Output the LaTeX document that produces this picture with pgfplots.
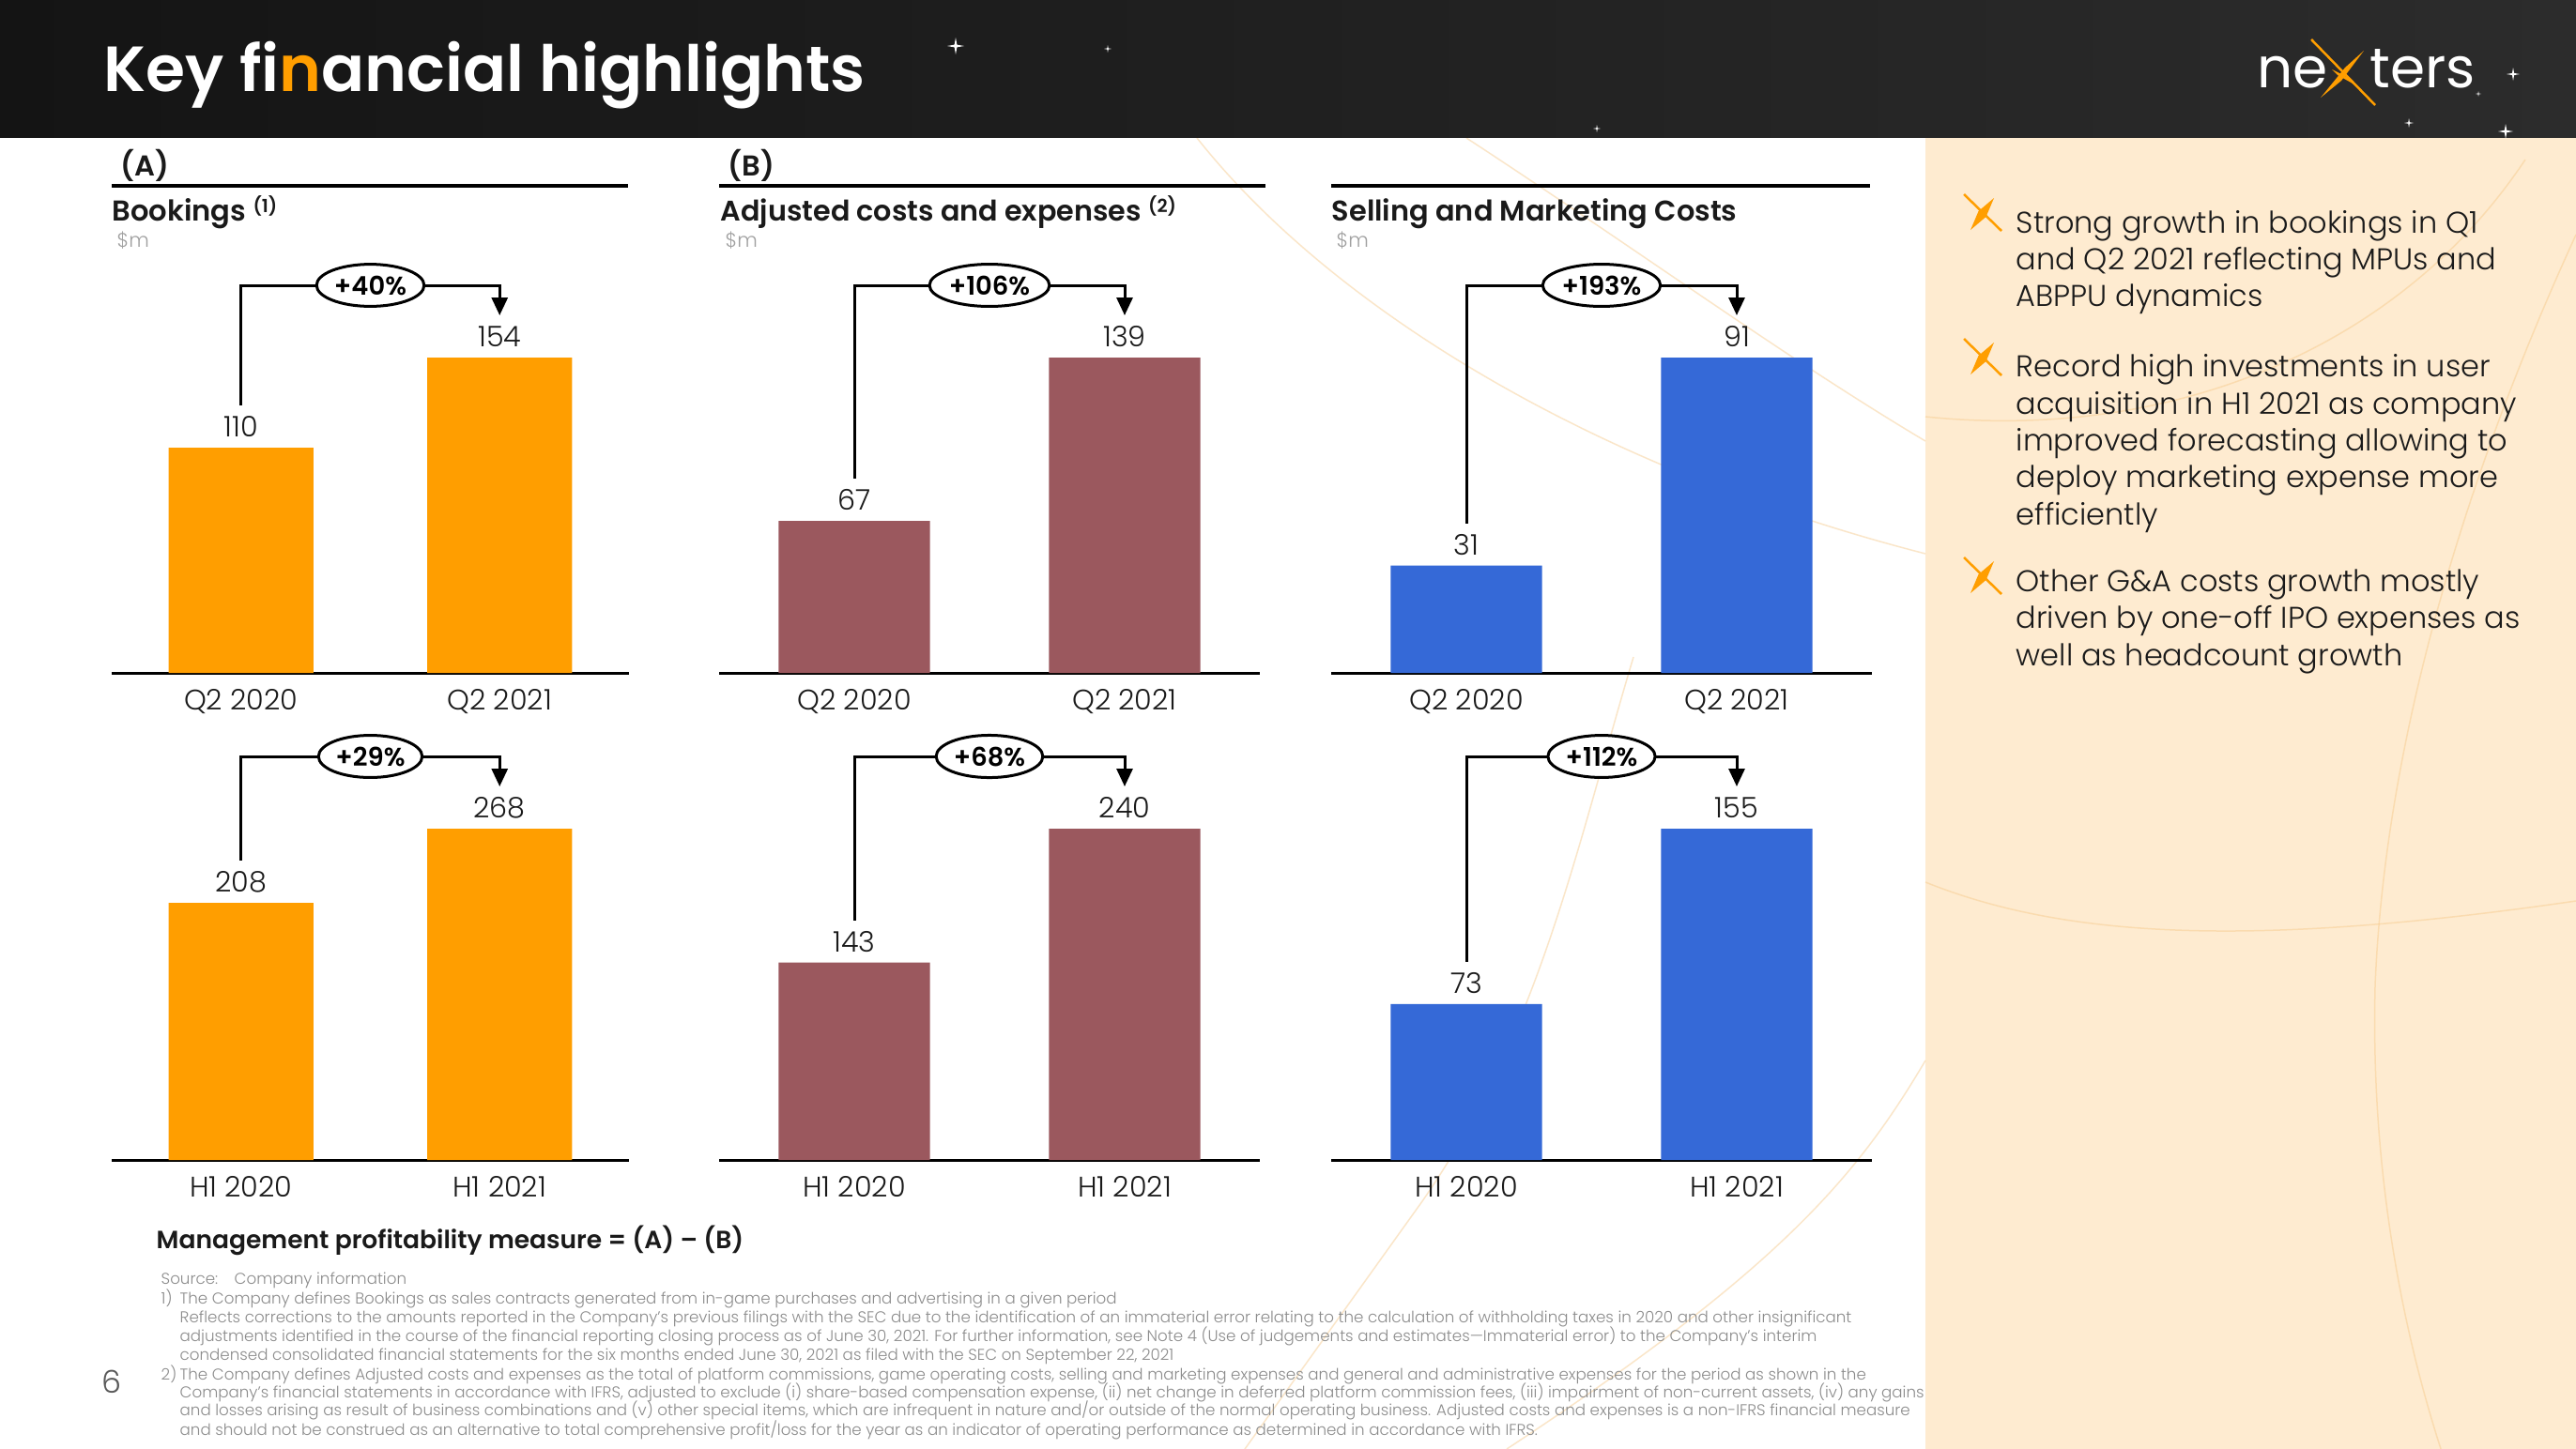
\documentclass[border=0pt]{standalone}
\usepackage{pgfplots}
\pgfplotsset{compat=1.18}
\usepackage{fontspec}
\setmainfont{Poppins}[UprightFont=* Light, BoldFont=* SemiBold]
\newfontfamily\popreg{Poppins}
\usetikzlibrary{shapes.geometric,arrows.meta}
\definecolor{cOr}{HTML}{FF9E00}
\definecolor{cMa}{HTML}{9B585E}
\definecolor{cBl}{HTML}{3569D7}
\definecolor{cPanel}{HTML}{FEEBD0}
\definecolor{cTxt}{HTML}{1A1A1A}
\definecolor{cGr}{HTML}{A0A0A0}
\definecolor{cFn}{HTML}{8C8C8C}
\definecolor{cDeco}{HTML}{F6C889}
\definecolor{hdrL}{HTML}{141414}
\definecolor{hdrR}{HTML}{2C2C2C}
\newcommand\fs[2]{\fontsize{#1}{#2}\selectfont}

\pgfplotsset{
 panel/.style={
  scale only axis, clip=false, enlargelimits=false,
  xmin=-0.5, xmax=1.5, ymin=0,
  axis x line=bottom, axis y line=none,
  x axis line style={-, line width=0.3mm, black},
  xtick={0,1}, major tick length=0pt, xtick style={draw=none},
  ytick=\empty,
  xticklabel style={anchor=base, yshift=-3.9mm, font=\fs{8.6}{10}, text=cTxt},
  ybar, bar width=0.56,
  nodes near coords,
  /pgf/number format/assume math mode=true,
  every node near coord/.append style={anchor=base, yshift=1.15mm, font=\fs{8.6}{10}, text=cTxt},
 }
}
\newcommand\bracket[4]{%
 \draw[line width=0.3mm, line join=miter, -{Triangle[width=1.7mm,length=1.9mm]}]
   ([yshift=4.5mm]axis cs:0,#1) -- ([yshift=#4]axis cs:0,0) -- ([yshift=#4]axis cs:1,0) -- ([yshift=4.5mm]axis cs:1,#2);
 \node[ellipse, draw, line width=0.3mm, fill=white, inner xsep=0.2mm, inner ysep=0.55mm, font=\bfseries\fs{7.8}{9}]
   at ([yshift=#4]axis cs:0.5,0) {#3};
}
\newcommand\xic[2]{%
 \draw[cOr, line width=0.25mm] ({#1-20},{#2-20}) -- ({#1+20},{#2+19});
 \fill[cOr] ({#1-13},{#2+18}) -- ({#1+3.5},{#2+4}) -- ({#1+12},{#2-16}) -- ({#1-4.5},{#2-2}) -- cycle;
}
\newcommand\bl[2]{\node[anchor=base west, inner sep=0, text=cTxt, font=\fs{9.1}{11}] at (2147,#1) {#2};}
\newcommand\fn[3]{\node[anchor=base west, inner sep=0, text=cFn, font=\fs{4.75}{5.5}] at (#1,#2) {#3};}
\newcommand\spark[3]{\fill[white] ({#1-#3},#2) -- ({#1-#3*0.15},{#2-#3*0.15}) -- (#1,{#2-#3}) -- ({#1+#3*0.15},{#2-#3*0.15}) -- ({#1+#3},#2) -- ({#1+#3*0.15},{#2+#3*0.15}) -- (#1,{#2+#3}) -- ({#1-#3*0.15},{#2+#3*0.15}) -- cycle;}

\begin{document}
\begin{tikzpicture}
\useasboundingbox (0,0) rectangle (274.4mm,-154.4mm);
\begin{scope}[x=0.1mm,y=-0.1mm]
 \fill[white] (0,0) rectangle (2744,1544);
 \fill[cPanel] (2051,146) rectangle (2744,1544);
 % decorative curves
 \begin{scope}[cDeco, line width=0.15mm, opacity=0.45]
  \draw (1275,147) .. controls (1420,330) and (1700,500) .. (2051,590);
  \draw (1562,147) .. controls (1750,270) and (1900,380) .. (2051,470);
  \draw (1740,700) .. controls (1680,900) and (1640,1100) .. (1515,1280) -- (1326,1544);
  \draw (2051,1130) .. controls (1980,1250) and (1900,1350) .. (1605,1544);
  \draw (2051,444) .. controls (2300,470) and (2550,380) .. (2690,170);
  \draw (2744,250) .. controls (2620,520) and (2540,800) .. (2530,1050) .. controls (2525,1250) and (2560,1420) .. (2600,1544);
  \draw (2051,940) .. controls (2200,1000) and (2400,1010) .. (2744,960);
 \end{scope}
 \shade[left color=hdrL,right color=hdrR] (0,0) rectangle (2744,146);
 % sparkles
 \spark{1018}{49}{9}
 \spark{1180}{52}{4}
 \spark{1701}{137}{4}
 \spark{2566}{131}{5}
 \spark{2677}{79}{7}
 \spark{2669}{140}{8}
 \spark{2640}{100}{3}
 % title
 \node[anchor=base west, inner sep=0, text=white, font=\bfseries\fs{19.35}{22}] at (110,97) {Key fi\textcolor{cOr}{n}ancial highlights};
 % logo
 \node[anchor=base west, inner sep=0, text=white, font=\popreg\fs{17}{20}] at (2404,93) {ne};
 \node[anchor=base west, inner sep=0, text=white, font=\popreg\fs{17}{20}] at (2524,93) {ters};
 \draw[cOr, line width=0.25mm] (2462,42) -- (2530,112);
 \fill[cOr] (2472,104) -- (2494,86) -- (2518,54) -- (2498,72) -- cycle;
 \fill[cOr] (2484,74) -- (2500,82) -- (2508,90) -- (2490,80) -- cycle;
 % column headers
 \node[anchor=base west, inner sep=0, text=cTxt, font=\bfseries\fs{8.7}{10}] at (128,187) {(A)};
 \node[anchor=base west, inner sep=0, text=cTxt, font=\bfseries\fs{8.7}{10}] at (775,187) {(B)};
 \draw[line width=0.45mm] (119,198) -- (669,198);
 \draw[line width=0.45mm] (766,198) -- (1348,198);
 \draw[line width=0.45mm] (1418,198) -- (1992,198);
 \node[anchor=base west, inner sep=0, text=cTxt, font=\bfseries\fs{8.7}{10}] at (119,235) {Bookings \raisebox{0.9mm}{\fs{5.5}{6}(1)}};
 \node[anchor=base west, inner sep=0, text=cTxt, font=\bfseries\fs{8.6}{10}] at (767,235) {Adjusted costs and expenses \raisebox{0.9mm}{\fs{5.5}{6}(2)}};
 \node[anchor=base west, inner sep=0, text=cTxt, font=\bfseries\fs{8.65}{10}] at (1418,235) {Selling and Marketing Costs};
 \node[anchor=base west, inner sep=0, text=cGr, font=\fs{6}{7}] at (124,263) {\$m};
 \node[anchor=base west, inner sep=0, text=cGr, font=\fs{6}{7}] at (772,263) {\$m};
 \node[anchor=base west, inner sep=0, text=cGr, font=\fs{6}{7}] at (1423,263) {\$m};
 % management line
 \node[anchor=base west, inner sep=0, text=cTxt, font=\bfseries\fs{7.55}{10}] at (166,1330) {Management profitability measure = (A) – (B)};
 % page number
 \node[anchor=base, inner sep=0, text=black!65, font=\fs{9.5}{11}] at (119,1484) {6};
 % footnotes
 \fn{171}{1368}{Source:}
 \fn{249}{1368}{Company information}
 \fn{171}{1389}{1)}
 \fn{191}{1389}{The Company defines Bookings as sales contracts generated from in-game purchases and advertising in a given period}
 \fn{191}{1409}{Reflects corrections to the amounts reported in the Company’s previous filings with the SEC due to the identification of an immaterial error relating to the calculation of withholding taxes in 2020 and other insignificant}
 \fn{191}{1429}{adjustments identified in the course of the financial reporting closing process as of June 30, 2021. For further information, see Note 4 (Use of judgements and estimates—Immaterial error) to the Company’s interim}
 \fn{191}{1449}{condensed consolidated financial statements for the six months ended June 30, 2021 as filed with the SEC on September 22, 2021}
 \fn{171}{1470}{2)}
 \fn{191}{1470}{The Company defines Adjusted costs and expenses as the total of platform commissions, game operating costs, selling and marketing expenses and general and administrative expenses for the period as shown in the}
 \fn{191}{1489}{Company’s financial statements in accordance with IFRS, adjusted to exclude (i) share-based compensation expense, (ii)\ net change in deferred platform commission fees, (iii) impairment of non-current assets, (iv) any gains}
 \fn{191}{1508}{and losses arising as result of business combinations and (v) other special items, which are infrequent in nature and/or outside of the normal operating business. Adjusted costs and expenses is a non-IFRS financial measure}
 \fn{191}{1529}{and should not be construed as an alternative to total comprehensive profit/loss for the year as an indicator of operating performance as determined in accordance with IFRS.}
 % bullets
 \xic{2112}{227}
 \xic{2112}{381}
 \xic{2112}{614}
 \bl{248}{Strong growth in bookings in Q1}
 \bl{287}{and Q2 2021 reflecting MPUs and}
 \bl{326}{ABPPU dynamics}
 \bl{401}{Record high investments in user}
 \bl{441}{acquisition in H1 2021 as company}
 \bl{480}{improved forecasting allowing to}
 \bl{519}{deploy marketing expense more}
 \bl{559}{efficiently}
 \bl{630}{Other G\&A costs growth mostly}
 \bl{669}{driven by one-off IPO expenses as}
 \bl{709}{well as headcount growth}
\end{scope}

% ---- top row ----
\begin{axis}[panel, at={(11.9mm,-71.7mm)}, anchor=south west, width=55.1mm, height=33.6mm, ymax=154, xticklabels={Q2 2020,Q2 2021}]
 \addplot[fill=cOr, draw=none] coordinates {(0,110) (1,154)};
 \bracket{110}{154}{+40\%}{41.3mm}
\end{axis}
\begin{axis}[panel, at={(76.6mm,-71.7mm)}, anchor=south west, width=57.6mm, height=33.6mm, ymax=139, xticklabels={Q2 2020,Q2 2021}]
 \addplot[fill=cMa, draw=none] coordinates {(0,67) (1,139)};
 \bracket{67}{139}{+106\%}{41.3mm}
\end{axis}
\begin{axis}[panel, at={(141.8mm,-71.7mm)}, anchor=south west, width=57.6mm, height=33.6mm, ymax=91, xticklabels={Q2 2020,Q2 2021}]
 \addplot[fill=cBl, draw=none] coordinates {(0,31) (1,91)};
 \bracket{31}{91}{+193\%}{41.3mm}
\end{axis}
% ---- bottom row ----
\begin{axis}[panel, at={(11.9mm,-123.6mm)}, anchor=south west, width=55.1mm, height=35.3mm, ymax=268, xticklabels={H1 2020,H1 2021}]
 \addplot[fill=cOr, draw=none] coordinates {(0,208) (1,268)};
 \bracket{208}{268}{+29\%}{43mm}
\end{axis}
\begin{axis}[panel, at={(76.6mm,-123.6mm)}, anchor=south west, width=57.6mm, height=35.3mm, ymax=240, xticklabels={H1 2020,H1 2021}]
 \addplot[fill=cMa, draw=none] coordinates {(0,143) (1,240)};
 \bracket{143}{240}{+68\%}{43mm}
\end{axis}
\begin{axis}[panel, at={(141.8mm,-123.6mm)}, anchor=south west, width=57.6mm, height=35.3mm, ymax=155, xticklabels={H1 2020,H1 2021}]
 \addplot[fill=cBl, draw=none] coordinates {(0,73) (1,155)};
 \bracket{73}{155}{+112\%}{43mm}
\end{axis}
\end{tikzpicture}
\end{document}
